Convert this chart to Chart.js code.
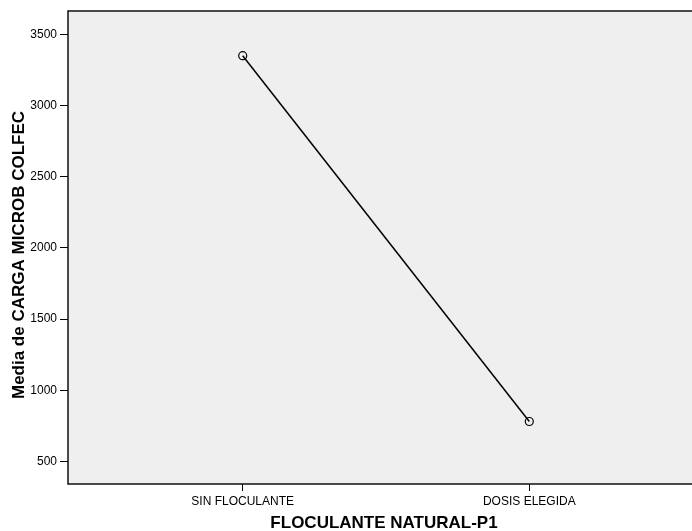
<!DOCTYPE html>
<html>
<head>
<meta charset="utf-8">
<script src="https://cdn.jsdelivr.net/npm/chart.js@4"></script>
<style>
  html, body { margin: 0; padding: 0; background: #fff; overflow: hidden; }
</style>
</head>
<body>
<canvas id="media_chart" width="692" height="531"></canvas>
<script>
// categorias y medias
const categorias = ['SIN FLOCULANTE', 'DOSIS ELEGIDA'];
const medias = [3350, 780];
const yTicks = [500, 1000, 1500, 2000, 2500, 3000, 3500];
const tituloX = 'FLOCULANTE NATURAL-P1';
const tituloY = 'Media de CARGA MICROB COLFEC';

const fuente = "'Liberation Sans', Arial, sans-serif";

// fondo gris, marco abierto a la derecha y titulos de los ejes
const marco = {
  id: 'marco',
  beforeDraw(chart) {
    const { ctx, chartArea: a } = chart;
    ctx.save();
    ctx.fillStyle = '#efefef';
    ctx.fillRect(a.left, a.top, a.right - a.left, a.bottom - a.top);
    ctx.restore();
  },
  afterDraw(chart) {
    const { ctx, chartArea: a } = chart;
    ctx.save();
    ctx.strokeStyle = '#111';
    ctx.lineWidth = 1.5;
    ctx.beginPath();
    ctx.moveTo(a.right + 2, a.top);
    ctx.lineTo(a.left, a.top);
    ctx.lineTo(a.left, a.bottom);
    ctx.lineTo(a.right + 2, a.bottom);
    ctx.stroke();

    ctx.fillStyle = '#000';
    ctx.font = 'bold 17px ' + fuente;
    ctx.textAlign = 'center';
    ctx.textBaseline = 'middle';
    ctx.fillText(tituloX, 384, 523);
    ctx.translate(19, 255);
    ctx.rotate(-Math.PI / 2);
    ctx.fillText(tituloY, 0, 0);
    ctx.restore();
  }
};

const media_chart = document.getElementById('media_chart');

new Chart(media_chart, {
  type: 'line',
  data: {
    datasets: [{
      label: 'Media',
      data: medias.map((v, i) => ({ x: i, y: v })),
      backgroundColor: 'transparent',
      borderColor: '#000',
      borderWidth: 1.5,
      pointRadius: 4,
      pointBorderWidth: 1.2,
      pointBorderColor: '#000',
      pointBackgroundColor: 'transparent'
    }]
  },
  options: {
    responsive: false,
    animation: false,
    layout: { autoPadding: false, padding: { top: 11, left: 0, right: 0, bottom: 0 } },
    plugins: { legend: { display: false }, tooltip: { enabled: false } },
    scales: {
      x: {
        type: 'linear',
        min: -0.6096,
        max: 1.5677,
        afterFit: s => { s.height = 47; s.paddingLeft = 0; s.paddingRight = 0; },
        afterBuildTicks: s => { s.ticks = categorias.map((_, i) => ({ value: i })); },
        grid: { drawOnChartArea: false, tickLength: 7, color: '#000' },
        border: { display: false },
        ticks: {
          padding: 3,
          color: '#000',
          font: { family: fuente, size: 12 },
          callback: v => categorias[v]
        }
      },
      y: {
        min: 341,
        max: 3664,
        afterFit: s => { s.width = 68; s.paddingTop = 0; s.paddingBottom = 0; },
        afterBuildTicks: s => { s.ticks = yTicks.map(v => ({ value: v })); },
        grid: { drawOnChartArea: false, tickLength: 8, color: '#000' },
        border: { display: false },
        ticks: {
          padding: 3,
          color: '#000',
          font: { family: fuente, size: 12 },
          callback: v => String(v)
        }
      }
    }
  },
  plugins: [marco]
});
</script>
</body>
</html>
